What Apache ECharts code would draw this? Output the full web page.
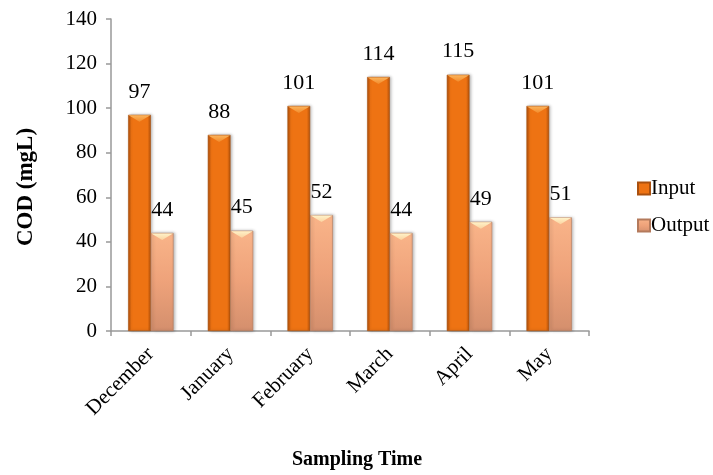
<!DOCTYPE html>
<html>
<head>
<meta charset="utf-8">
<script src="https://cdn.jsdelivr.net/npm/echarts@6/dist/echarts.min.js"></script>
<style>html,body{margin:0;padding:0;background:#fff}#c{width:713px;height:475px}</style>
</head>
<body>
<div id="c"></div>
<script>
var categories = ['December', 'January', 'February', 'March', 'April', 'May'];
var inputValues = [97, 88, 101, 114, 115, 101];
var outputValues = [44, 45, 52, 44, 49, 51];
var seriesNames = ['Input', 'Output'];
var yTitle = 'COD (mgL)';
var xTitle = 'Sampling Time';

var FONT = "'Liberation Serif', 'Times New Roman', serif";
var CAT_GAP = 0.43;
var chart = echarts.init(document.getElementById('c'), null, {renderer: 'canvas'});

function hGrad(edge, mid) {
  return new echarts.graphic.LinearGradient(0, 0, 1, 0, [
    {offset: 0, color: edge}, {offset: 0.15, color: mid}, {offset: 0.85, color: mid}, {offset: 1, color: edge}
  ]);
}

function bevelRenderer(side, topColor, tipColor) {
  return function (params, api) {
    var idx = api.value(0), v = api.value(1);
    var p = api.coord([idx, v]);
    var band = api.size([1, 0])[0];
    var bw = band * (1 - CAT_GAP) / 2;
    var cx = p[0] + side * bw / 2;
    var y = p[1];
    return {
      type: 'polygon',
      shape: {points: [[cx - bw / 2 + 0.5, y + 0.5], [cx + bw / 2 - 0.5, y + 0.5], [cx, y + 7]]},
      style: {fill: new echarts.graphic.LinearGradient(0, 0, 0, 1, [
        {offset: 0, color: topColor}, {offset: 1, color: tipColor}])}
    };
  };
}

var option = {
  animation: false,
  backgroundColor: '#ffffff',
  grid: {left: 111, right: 124, top: 19, bottom: 144, containLabel: false},
  legend: {
    orient: 'vertical', left: 637, top: 178, padding: 0, itemWidth: 12, itemHeight: 12, itemGap: 16,
    icon: 'rect',
    textStyle: {fontFamily: FONT, fontSize: 21, color: '#000', padding: [0, 0, 0, -4]},
    data: seriesNames
  },
  xAxis: {
    type: 'category', data: categories,
    axisLine: {show: true, lineStyle: {color: '#999', width: 1.5}},
    axisTick: {show: true, length: 5, alignWithLabel: false, lineStyle: {color: '#999', width: 1.5}},
    axisLabel: {rotate: 45, fontFamily: FONT, fontSize: 21, color: '#000', margin: 20, interval: 0},
    splitLine: {show: false}
  },
  yAxis: {
    type: 'value', min: 0, max: 140, interval: 20,
    axisLine: {show: true, lineStyle: {color: '#999', width: 1.5}},
    axisTick: {show: true, length: 5, lineStyle: {color: '#999', width: 1.5}},
    axisLabel: {fontFamily: FONT, fontSize: 21, color: '#000', margin: 14},
    splitLine: {show: false}
  },
  graphic: [
    {type: 'text', x: 26, y: 187, rotation: Math.PI / 2,
     style: {text: yTitle, font: 'bold 23px ' + FONT, fill: '#000', align: 'center', verticalAlign: 'middle'}},
    {type: 'text', x: 357, y: 460,
     style: {text: xTitle, font: 'bold 20px ' + FONT, fill: '#000', align: 'center', verticalAlign: 'middle'}}
  ],
  series: [
    {
      name: seriesNames[0], type: 'bar', data: inputValues,
      barGap: '0%', barCategoryGap: (CAT_GAP * 100) + '%',
      itemStyle: {
        color: hGrad('#b2500a', '#ee7313'),
        borderColor: '#a9500f', borderWidth: 0.6,
        shadowBlur: 3, shadowColor: 'rgba(0,0,0,0.3)', shadowOffsetX: 1.5
      },
      label: {show: true, position: 'top', distance: 12, fontFamily: FONT, fontSize: 22, color: '#000'}
    },
    {
      name: seriesNames[1], type: 'bar', data: outputValues,
      itemStyle: {
        color: new echarts.graphic.LinearGradient(0, 0, 0, 1, [
          {offset: 0, color: '#f9b489'}, {offset: 0.5, color: '#eea27a'}, {offset: 1, color: '#d48f6d'}
        ]),
        borderColor: '#b47a5c', borderWidth: 0.6,
        shadowBlur: 3, shadowColor: 'rgba(0,0,0,0.3)', shadowOffsetX: 1.5
      },
      label: {show: true, position: 'top', distance: 12, fontFamily: FONT, fontSize: 22, color: '#000'}
    },
    {
      name: 'inputTop', type: 'custom', silent: true, z: 5,
      data: inputValues.map(function (v, i) { return [i, v]; }),
      encode: {x: 0, y: 1},
      renderItem: bevelRenderer(-1, '#fbb45c', '#f28b2c')
    },
    {
      name: 'outputTop', type: 'custom', silent: true, z: 5,
      data: outputValues.map(function (v, i) { return [i, v]; }),
      encode: {x: 0, y: 1},
      renderItem: bevelRenderer(1, '#fff2c8', '#fbd3a0')
    }
  ]
};
chart.setOption(option);
</script>
</body>
</html>
